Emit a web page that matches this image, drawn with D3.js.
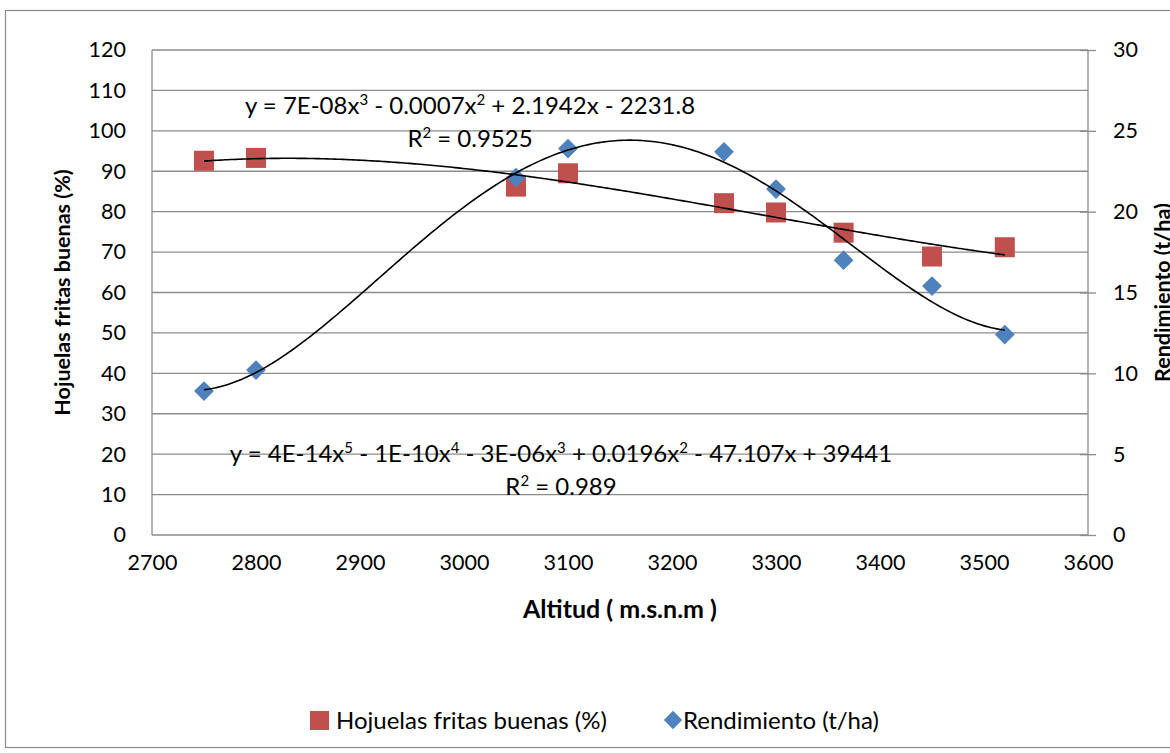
<!DOCTYPE html>
<html>
<head>
<meta charset="utf-8">
<script src="https://cdn.jsdelivr.net/npm/d3@7"></script>
<style>
  html, body { margin: 0; padding: 0; background: #fff; overflow: hidden; }
  svg { display: block; font-family: Lato, "Open Sans", sans-serif; }
</style>
</head>
<body>
<div id="chart"></div>
<script>
// datos
const altitudes = [2750, 2800, 3050, 3100, 3250, 3300, 3365, 3450, 3520];
const hojuelas = [92.6, 93.3, 86.2, 89.5, 82.1, 79.8, 74.8, 68.9, 71.2];
const rendimiento = [8.9, 10.2, 22.1, 23.9, 23.7, 21.4, 17.0, 15.4, 12.4];

const xTicks = [2700, 2800, 2900, 3000, 3100, 3200, 3300, 3400, 3500, 3600];
const yLeftTicks = [0, 10, 20, 30, 40, 50, 60, 70, 80, 90, 100, 110, 120];
const yRightTicks = [0, 5, 10, 15, 20, 25, 30];

const seriesNames = ['Hojuelas fritas buenas (%)', 'Rendimiento (t/ha)'];
const colors = { hojuelas: '#C0504D', rendimiento: '#4F81BD' };

const W = 1170, H = 753;
const plot = { left: 152, right: 1088, top: 50, bottom: 535 };

const svg = d3.select('#chart').append('svg')
    .attr('width', W).attr('height', H);

// marco exterior
svg.append('rect')
    .attr('x', 5.5).attr('y', 10.5)
    .attr('width', 1200).attr('height', 737)
    .attr('fill', 'none').attr('stroke', '#8a8a8a').attr('stroke-width', 1.2);

const x = d3.scaleLinear().domain([2700, 3600]).range([plot.left, plot.right]);
const yL = d3.scaleLinear().domain([0, 120]).range([plot.bottom, plot.top]);
const yR = d3.scaleLinear().domain([0, 30]).range([plot.bottom, plot.top]);

// lineas de cuadricula
svg.append('g').selectAll('line').data(yLeftTicks).join('line')
    .attr('x1', plot.left).attr('x2', plot.right)
    .attr('y1', d => yL(d)).attr('y2', d => yL(d))
    .attr('stroke', '#8c8c8c').attr('stroke-width', 1.3);

// eje izquierdo (linea vertical)
svg.append('line')
    .attr('x1', plot.left).attr('x2', plot.left)
    .attr('y1', plot.top).attr('y2', plot.bottom)
    .attr('stroke', '#8c8c8c').attr('stroke-width', 1.3);

// eje derecho
const rightAxis = svg.append('g')
    .attr('transform', `translate(${plot.right},0)`)
    .call(d3.axisRight(yR).tickValues(yRightTicks).tickSize(8).tickPadding(17));
rightAxis.select('.domain').attr('stroke', '#8c8c8c').attr('stroke-width', 1.3)
    .attr('d', `M0,${plot.top}V${plot.bottom}`);
rightAxis.selectAll('.tick line').attr('stroke', '#8c8c8c').attr('stroke-width', 1.3)
    .attr('x1', -8);
rightAxis.selectAll('.tick text').attr('font-size', 21.5).attr('fill', '#000')
    .attr('font-family', 'Lato, sans-serif');

// etiquetas eje izquierdo
const leftAxis = svg.append('g')
    .attr('transform', `translate(${plot.left},0)`)
    .call(d3.axisLeft(yL).tickValues(yLeftTicks).tickSize(0).tickPadding(26));
leftAxis.select('.domain').remove();
leftAxis.selectAll('.tick text').attr('font-size', 21.5).attr('fill', '#000')
    .attr('font-family', 'Lato, sans-serif');

// etiquetas eje x
const bottomAxis = svg.append('g')
    .attr('transform', `translate(0,${plot.bottom})`)
    .call(d3.axisBottom(x).tickValues(xTicks).tickFormat(d3.format('d')).tickSize(0).tickPadding(20));
bottomAxis.select('.domain').remove();
bottomAxis.selectAll('.tick text').attr('font-size', 21.5).attr('fill', '#000')
    .attr('font-family', 'Lato, sans-serif');

// titulos de ejes
svg.append('text')
    .attr('transform', `translate(70,${(plot.top + plot.bottom) / 2}) rotate(-90)`)
    .attr('text-anchor', 'middle').attr('font-weight', 'bold').attr('font-size', 21.5)
    .text('Hojuelas fritas buenas (%)');
svg.append('text')
    .attr('transform', `translate(1170,${(plot.top + plot.bottom) / 2}) rotate(-90)`)
    .attr('text-anchor', 'middle').attr('font-weight', 'bold').attr('font-size', 21.5)
    .text('Rendimiento (t/ha)');
svg.append('text')
    .attr('x', (plot.left + plot.right) / 2).attr('y', 618)
    .attr('text-anchor', 'middle').attr('font-weight', 'bold').attr('font-size', 25)
    .text('Altitud ( m.s.n.m )');

// ajuste polinomial por minimos cuadrados (linea de tendencia)
function polyFit(xs, ys, order) {
    const cx = d3.mean(xs), sx = 400;
    const n = order + 1;
    const A = Array.from({ length: n }, () => new Array(n + 1).fill(0));
    xs.forEach((xv, k) => {
        const t = (xv - cx) / sx;
        for (let i = 0; i < n; i++) {
            for (let j = 0; j < n; j++) A[i][j] += Math.pow(t, i + j);
            A[i][n] += ys[k] * Math.pow(t, i);
        }
    });
    for (let i = 0; i < n; i++) {
        let p = i;
        for (let r = i + 1; r < n; r++) if (Math.abs(A[r][i]) > Math.abs(A[p][i])) p = r;
        [A[i], A[p]] = [A[p], A[i]];
        for (let r = 0; r < n; r++) {
            if (r === i) continue;
            const f = A[r][i] / A[i][i];
            for (let c = i; c <= n; c++) A[r][c] -= f * A[i][c];
        }
    }
    const coef = A.map((row, i) => row[n] / row[i]);
    return xv => {
        const t = (xv - cx) / sx;
        return coef.reduce((s, c, i) => s + c * Math.pow(t, i), 0);
    };
}

const xMin = d3.min(altitudes), xMax = d3.max(altitudes);
const steps = d3.range(0, 301).map(i => xMin + (xMax - xMin) * i / 300);

const fitH = polyFit(altitudes, hojuelas, 3);
const fitR = polyFit(altitudes, rendimiento, 5);

// series
const gSq = svg.append('g');
gSq.selectAll('rect').data(altitudes).join('rect')
    .attr('x', (d) => x(d) - 10)
    .attr('y', (d, i) => yL(hojuelas[i]) - 10)
    .attr('width', 20).attr('height', 20)
    .attr('fill', colors.hojuelas);

const gDi = svg.append('g');
gDi.selectAll('path').data(altitudes).join('path')
    .attr('transform', (d, i) => `translate(${x(d)},${yR(rendimiento[i])}) rotate(45)`)
    .attr('d', 'M-7,-7H7V7H-7Z')
    .attr('fill', colors.rendimiento);

const trend = svg.append('g').attr('fill', 'none').attr('stroke', '#000').attr('stroke-width', 1.6);
trend.append('path')
    .attr('d', d3.line().x(d => x(d)).y(d => yL(fitH(d)))(steps));
trend.append('path')
    .attr('d', d3.line().x(d => x(d)).y(d => yR(fitR(d)))(steps));

// ecuaciones (los exponentes como superindice)
function equation(parts, cx, cy) {
    const t = svg.append('text')
        .attr('x', cx).attr('y', cy)
        .attr('text-anchor', 'middle').attr('font-size', 24);
    let raised = false;
    parts.forEach(p => {
        if (Array.isArray(p)) {
            t.append('tspan').attr('font-size', 15).attr('dy', -9).text(p[0]);
            raised = true;
        } else {
            t.append('tspan').attr('dy', raised ? 9 : 0).text(p);
            raised = false;
        }
    });
}

equation(['y = 7E-08x', ['3'], ' - 0.0007x', ['2'], ' + 2.1942x - 2231.8'], 470, 114);
equation(['R', ['2'], ' = 0.9525'], 470, 147);
equation(['y = 4E-14x', ['5'], ' - 1E-10x', ['4'], ' - 3E-06x', ['3'], ' + 0.0196x', ['2'], ' - 47.107x + 39441'], 561, 462);
equation(['R', ['2'], ' = 0.989'], 561, 495);

// leyenda
const legend = svg.append('g').attr('font-size', 24);
legend.append('rect').attr('x', 310).attr('y', 711).attr('width', 19).attr('height', 19)
    .attr('fill', colors.hojuelas);
legend.append('text').attr('x', 336).attr('y', 729).text(seriesNames[0]);
legend.append('path')
    .attr('transform', 'translate(673,720) rotate(45)')
    .attr('d', 'M-6.5,-6.5H6.5V6.5H-6.5Z')
    .attr('fill', colors.rendimiento);
legend.append('text').attr('x', 683).attr('y', 729).text(seriesNames[1]);
</script>
</body>
</html>
